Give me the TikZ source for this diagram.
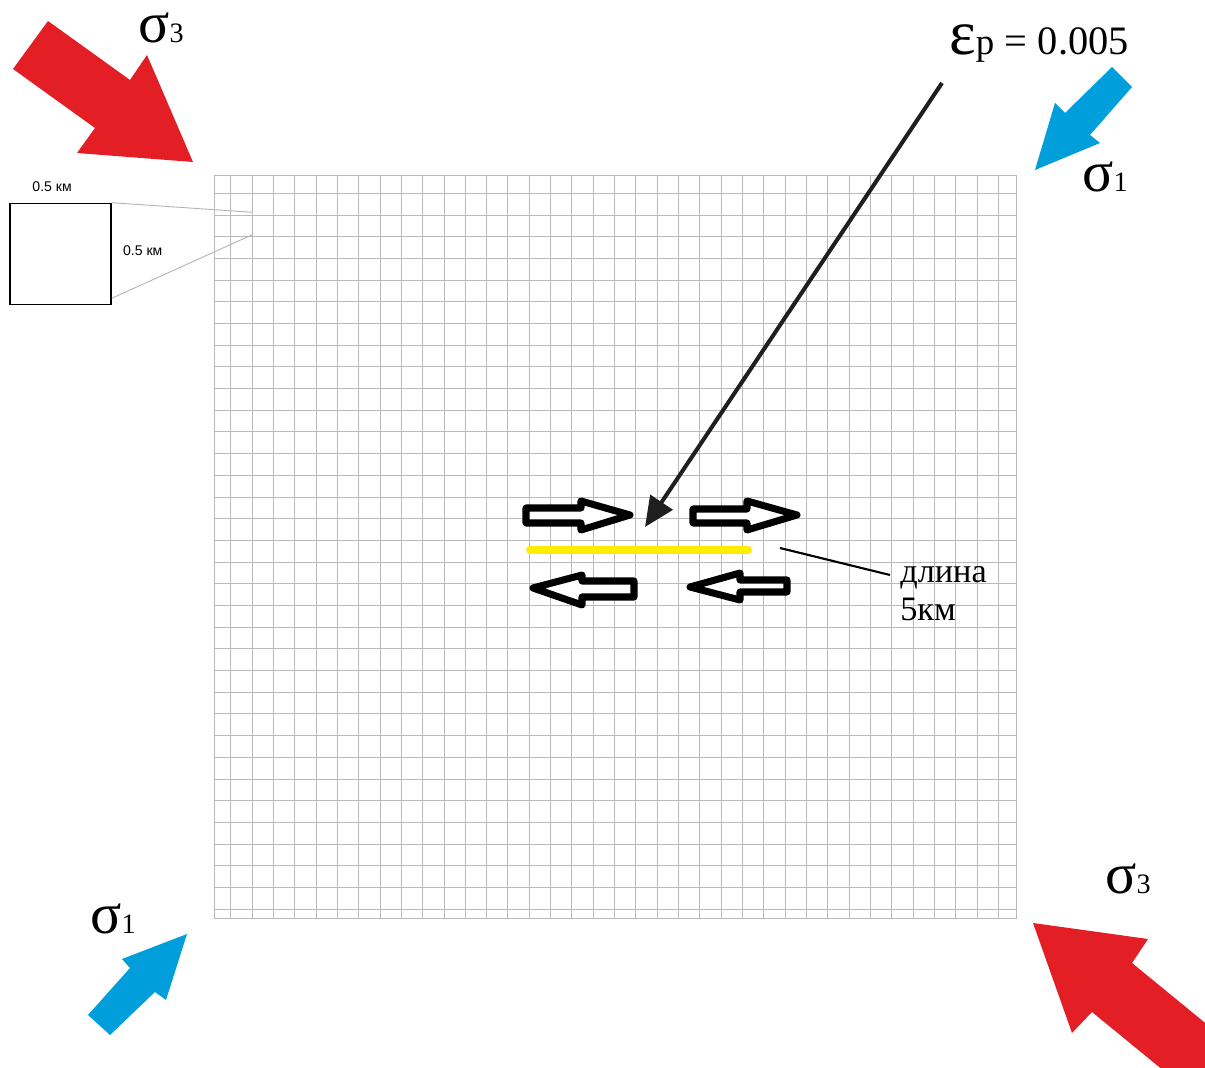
\documentclass[tikz,border=0pt]{standalone}
\usepackage{fontspec}
\setmainfont{Liberation Serif}
\newfontfamily\arialfont{Liberation Sans}
\usepackage{tikz}
\usetikzlibrary{arrows.meta,positioning}
\definecolor{stressred}{RGB}{227,30,36}
\definecolor{stressblue}{RGB}{0,158,219}
\definecolor{faultyellow}{RGB}{255,236,0}
\definecolor{gridgray}{RGB}{185,185,185}
\newcommand{\stresssig}[1]{{\fontsize{33}{33}\selectfont σ}{\fontsize{16}{16}\selectfont #1}}

\begin{document}
\begin{tikzpicture}[x=0.02cm, y=-0.02cm,
    gridline/.style={draw=gridgray, line width=0.45pt},
    zoomline/.style={draw=gray!60, line width=0.5pt},
    hollow/.style={draw=black, fill=white, line width=4pt, line join=round},
    sig/.style={inner sep=0pt, anchor=base west},
    km/.style={font=\arialfont\fontsize{8}{9}\selectfont, inner sep=0pt}]
  \useasboundingbox (0,0) rectangle (1205,1068);
  \clip (0,0) rectangle (1205,1068);
  % grid
  \foreach \i in {0,...,36}
    \draw[gridline] ({230.7+21.32*\i},175) -- ({230.7+21.32*\i},918);
  \foreach \j in {0,...,33}
    \draw[gridline] (214,{193.3+21.69*\j}) -- (1016,{193.3+21.69*\j});
  \draw[gridline] (214,175) rectangle (1016,918);
  % cell 0.5 km
  \node[draw, line width=0.9pt, minimum size=57.5pt, inner sep=0pt] (cell) at (60.5,254) {};
  \node[km] (kmtop) at ([xshift=-4.8pt, yshift=9pt]cell.north) {0.5 км};
  \node[km] (kmside) at ([xshift=17.6pt, yshift=1.7pt]cell.east) {0.5 км};
  \coordinate (zoomtop) at (252.7,212.3);
  \coordinate (zoombot) at (252.7,234.5);
  \draw[zoomline] (cell.north east) -- (zoomtop);
  \draw[zoomline] ([yshift=4pt]cell.south east) -- (zoombot);
  % stress arrows
  \fill[stressred] (48,21) -- (130,80) -- (147,55) -- (193,162) -- (77,153) -- (95,128) -- (13,69) -- cycle;
  \fill[stressred] (1248,1058) -- (1132,963) -- (1148,939) -- (1033,923) -- (1072,1033) -- (1092,1012) -- (1208,1107) -- cycle;
  \fill[stressblue] (1112,67) -- (1065,113) -- (1055,103) -- (1035,170) -- (1100,143) -- (1090,135) -- (1132,87) -- cycle;
  \fill[stressblue] (88,1015) -- (130,968) -- (122,959) -- (187,934) -- (166,1000) -- (155,992) -- (110,1035) -- cycle;
  \node[sig] (s3top) at (138,43) {\stresssig{3}};
  \node[sig] (s1top) at (1082,192) {\stresssig{1}};
  \node[sig] (s1bot) at (90,933) {\stresssig{1}};
  \node[sig] (s3bot) at (1105,893) {\stresssig{3}};
  % fault and slip
  \coordinate (faultw) at (530,550);
  \coordinate (faulte) at (748,550);
  \draw[faultyellow, line width=4.5pt, line cap=round] (faultw) -- (faulte);
  \draw[hollow] (526,508) -- (581,508) -- (581,501) -- (630,515) -- (581,530) -- (581,523) -- (526,523) -- cycle;
  \draw[hollow] (693,509) -- (747,509) -- (747,501) -- (797,515) -- (747,530) -- (747,523) -- (693,523) -- cycle;
  \draw[hollow] (634,581) -- (582,581) -- (582,575) -- (533,588) -- (582,605) -- (582,597) -- (634,597) -- cycle;
  \draw[hollow] (787,580) -- (740,580) -- (740,573) -- (690,587) -- (740,600) -- (740,592) -- (787,592) -- cycle;
  % labels
  \node[sig] (epslab) at (949,55) {{\fontsize{36}{36}\selectfont ε}{\fontsize{21}{21}\selectfont p}\hspace{6pt}{\fontsize{23}{23}\selectfont = 0.005}};
  \coordinate (epsfoot) at (942,83);
  \coordinate (epstip) at (645,527);
  \draw[black!88, line width=2.3pt, -{Triangle[length=17pt, width=15pt]}] (epsfoot) -- (epstip);
  \node[anchor=north west, align=left, inner sep=0pt, font=\fontsize{19.5}{21.5}\selectfont] (lenlab) at (900,566) {длина\\5км};
  \coordinate (leadstart) at (780,548);
  \coordinate (leadend) at (890,575);
  \draw[line width=1.2pt] (leadstart) -- (leadend);
\end{tikzpicture}
\end{document}
